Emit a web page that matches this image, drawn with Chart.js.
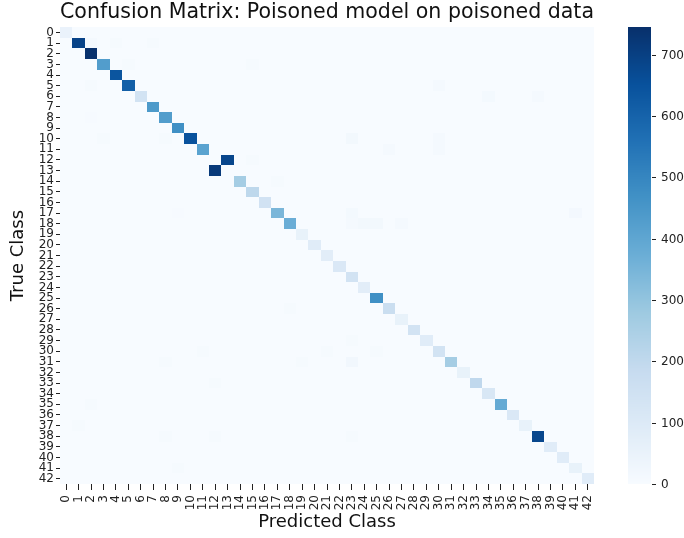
<!DOCTYPE html>
<html>
<head>
<meta charset="utf-8">
<script src="https://cdn.jsdelivr.net/npm/chart.js@4.4.0/dist/chart.umd.min.js"></script>
<style>
  html, body { margin: 0; padding: 0; background: #fff; }
  #wrap { width: 684px; height: 538px; }
</style>
</head>
<body>
<div id="wrap"><canvas id="cm"></canvas></div>
<script>
// class ids shown on both axes
const classes = ['0','1','2','3','4','5','6','7','8','9','10','11','12','13','14','15','16','17','18','19','20',
  '21','22','23','24','25','26','27','28','29','30','31','32','33','34','35','36','37','38','39','40','41','42'];

// correct predictions per true class (row i, column i)
const diagonal = [50, 690, 742, 430, 640, 610, 140, 440, 430, 470, 650, 410, 0, 0, 262, 205, 145, 345, 375, 55,
  85, 80, 110, 140, 80, 470, 170, 55, 140, 85, 140, 262, 55, 200, 115, 385, 110, 55, 680, 85, 85, 55, 85];

// classes 12 and 13 swapped by the poison: [true, predicted, count]
const swapped = [[12, 13, 683], [13, 12, 716]];

// small stray errors: [true, predicted, count]
const strays = [
  [1, 2, 10], [1, 4, 8], [1, 7, 6], [3, 5, 8], [3, 15, 6], [5, 2, 6], [8, 2, 5], [10, 3, 6], [10, 8, 6],
  [12, 15, 8], [14, 17, 7], [17, 9, 5], [5, 30, 12], [6, 34, 14], [6, 38, 12], [10, 23, 18], [11, 26, 12],
  [10, 30, 12], [11, 30, 12], [17, 23, 14], [18, 23, 10], [18, 24, 18], [18, 25, 18], [18, 27, 10], [17, 41, 16],
  [29, 23, 8], [31, 23, 22], [30, 25, 8], [30, 21, 6], [38, 23, 8], [26, 18, 6], [30, 11, 6], [31, 8, 6],
  [33, 12, 7], [35, 2, 6], [37, 1, 6], [38, 8, 6], [38, 12, 7], [41, 9, 6], [31, 19, 6]
];

const colorbarTicks = [0, 100, 200, 300, 400, 500, 600, 700];
const colorMax = 745;

// matplotlib "Blues"
const bluesStops = ['#f7fbff', '#deebf7', '#c6dbef', '#9ecae1', '#6baed6', '#4292c6', '#2171b5', '#08519c', '#08306b'];

function hexRgb(h) {
  return [parseInt(h.slice(1, 3), 16), parseInt(h.slice(3, 5), 16), parseInt(h.slice(5, 7), 16)];
}
const bluesRgb = bluesStops.map(hexRgb);

function blues(t) {
  t = Math.max(0, Math.min(1, t));
  const s = t * (bluesRgb.length - 1);
  const i = Math.min(Math.floor(s), bluesRgb.length - 2);
  const f = s - i;
  const a = bluesRgb[i], b = bluesRgb[i + 1];
  return 'rgb(' + a.map((v, k) => Math.round(v + (b[k] - v) * f)).join(',') + ')';
}

// full matrix, rows = true class, cols = predicted class
const matrix = classes.map(() => classes.map(() => 0));
diagonal.forEach((v, i) => { matrix[i][i] = v; });
swapped.concat(strays).forEach(([r, c, v]) => { matrix[r][c] = v; });

const cells = [];
matrix.forEach((row, r) => {
  row.forEach((v, c) => cells.push({ x: classes[c], y: classes[r], v: v }));
});

const FONT = 'DejaVu Sans, Liberation Sans, sans-serif';

const heatmapPlugin = {
  id: 'heatmap',
  beforeDatasetsDraw(chart) {
    const ctx = chart.ctx;
    const xs = chart.scales.x, ys = chart.scales.y;
    const cw = (xs.right - xs.left) / classes.length;
    const ch = (ys.bottom - ys.top) / classes.length;
    ctx.save();
    chart.data.datasets[0].data.forEach(d => {
      const cx = xs.getPixelForValue(classes.indexOf(d.x));
      const cy = ys.getPixelForValue(classes.indexOf(d.y));
      const x0 = Math.round(cx - cw / 2), x1 = Math.round(cx + cw / 2);
      const y0 = Math.round(cy - ch / 2), y1 = Math.round(cy + ch / 2);
      ctx.fillStyle = blues(d.v / colorMax);
      ctx.fillRect(x0, y0, x1 - x0, y1 - y0);
    });
    ctx.restore();
  },
  afterDraw(chart) {
    // colour bar on the right
    const ctx = chart.ctx;
    const cb = chart.scales.cb;
    const left = 628, width = 23;
    const top = cb.getPixelForValue(colorMax), bottom = cb.getPixelForValue(0);
    ctx.save();
    for (let y = Math.floor(top); y < Math.ceil(bottom); y++) {
      ctx.fillStyle = blues(cb.getValueForPixel(y + 0.5) / colorMax);
      ctx.fillRect(left, y, width, 1);
    }
    ctx.strokeStyle = '#222';
    ctx.lineWidth = 1;
    ctx.fillStyle = '#222';
    ctx.font = '12px ' + FONT;
    ctx.textBaseline = 'middle';
    colorbarTicks.forEach(t => {
      const y = Math.round(cb.getPixelForValue(t)) + 0.5;
      ctx.beginPath();
      ctx.moveTo(left + width + 1, y);
      ctx.lineTo(left + width + 5, y);
      ctx.stroke();
      ctx.fillText(String(t), left + width + 10, y);
    });
    ctx.restore();
  }
};

new Chart(document.getElementById('cm'), {
  type: 'scatter',
  data: {
    datasets: [{
      label: 'counts',
      data: cells,
      pointRadius: 0,
      pointHoverRadius: 0
    }]
  },
  options: {
    responsive: true,
    maintainAspectRatio: false,
    animation: false,
    events: [],
    layout: { padding: { top: 0, right: 90, left: 0, bottom: 0 } },
    plugins: {
      legend: { display: false },
      tooltip: { enabled: false },
      title: {
        display: true,
        fullSize: false,
        text: 'Confusion Matrix: Poisoned model on poisoned data',
        color: '#111',
        font: { family: FONT, size: 21, weight: 'normal' },
        padding: { top: 0, bottom: 2 }
      }
    },
    scales: {
      x: {
        type: 'category',
        labels: classes,
        offset: true,
        grid: { display: true, drawOnChartArea: false, offset: false, drawTicks: true, tickLength: 6, color: '#222' },
        border: { display: false },
        ticks: {
          autoSkip: false, minRotation: 90, maxRotation: 90, padding: 5,
          color: '#222', font: { family: FONT, size: 12 }
        },
        title: { display: true, text: 'Predicted Class', color: '#111', font: { family: FONT, size: 18 }, padding: { top: 5, bottom: 5 } },
        afterFit(scale) { scale.height = 54; }
      },
      y: {
        type: 'category',
        labels: classes,
        offset: true,
        grid: { display: true, drawOnChartArea: false, offset: false, drawTicks: true, tickLength: 4, color: '#222' },
        border: { display: false },
        ticks: {
          autoSkip: false, padding: 2,
          color: '#222', font: { family: FONT, size: 12 }
        },
        title: { display: true, text: 'True Class', color: '#111', font: { family: FONT, size: 18 }, padding: { top: 8, bottom: 4 } },
        afterFit(scale) { scale.width = 60; }
      },
      cb: {
        type: 'linear',
        position: 'right',
        display: false,
        min: 0,
        max: colorMax
      }
    }
  },
  plugins: [heatmapPlugin]
});
</script>
</body>
</html>
